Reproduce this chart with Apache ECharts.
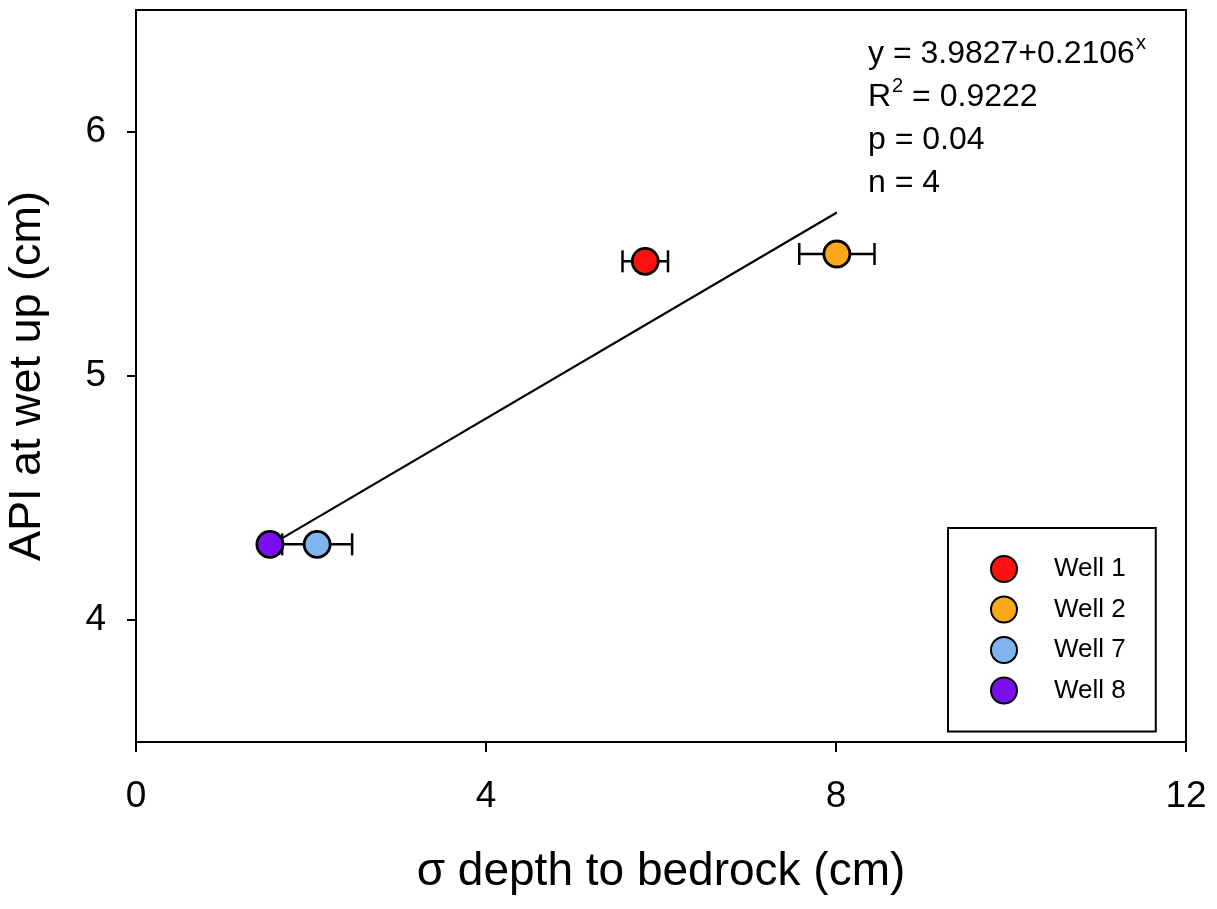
<!DOCTYPE html>
<html>
<head>
<meta charset="utf-8">
<script src="https://cdn.jsdelivr.net/npm/echarts@6/dist/echarts.min.js"></script>
<style>
  html, body { margin: 0; padding: 0; background: #fff; }
  #chart { width: 1217px; height: 909px; }
</style>
</head>
<body>
<div id="chart"></div>
<script>
// values
const wells = ['Well 1', 'Well 2', 'Well 7', 'Well 8']
const depthSd = [5.82, 8.01, 2.07, 1.53]
const depthSdErr = [0.26, 0.43, 0.40, 0]
const apiWetUp = [5.47, 5.50, 4.31, 4.31]
const wellColors = ['#ff1010', '#f8a818', '#80b4ee', '#7a10f0']

const fitX = [1.55, 8.01]
const fitY = [4.31, 5.67]

const xTicks = [0, 4, 8, 12]
const yTicks = [4, 5, 6]

const statLines = ['y = 3.9827+0.2106', 'x', 'R', '2', ' = 0.9222', 'p = 0.04', 'n = 4']

const FONT = '"Liberation Sans", Arial, sans-serif'

const chart = echarts.init(document.getElementById('chart'))

const errData = wells.map((w, i) => [depthSd[i], apiWetUp[i], depthSdErr[i]])

function renderErr(params, api) {
  const x = api.value(0), y = api.value(1), e = api.value(2)
  if (!e) return null
  const a = api.coord([x - e, y])
  const b = api.coord([x + e, y])
  const h = 11
  const st = { stroke: '#000', lineWidth: 2.5 }
  return {
    type: 'group',
    children: [
      { type: 'line', shape: { x1: a[0], y1: a[1], x2: b[0], y2: b[1] }, style: st },
      { type: 'line', shape: { x1: a[0], y1: a[1] - h, x2: a[0], y2: a[1] + h }, style: st },
      { type: 'line', shape: { x1: b[0], y1: b[1] - h, x2: b[0], y2: b[1] + h }, style: st }
    ]
  }
}

const option = {
  animation: false,
  backgroundColor: '#fff',
  textStyle: { fontFamily: FONT },
  grid: {
    left: 136, right: 31, top: 10, bottom: 167,
    outerBoundsMode: 'none', containLabel: false,
    show: true, borderColor: '#000', borderWidth: 2
  },
  xAxis: {
    type: 'value', min: 0, max: 12, interval: 4,
    name: 'σ depth to bedrock (cm)', nameLocation: 'middle', nameGap: 107,
    nameTextStyle: { fontSize: 46, color: '#000', fontFamily: FONT },
    axisLine: { lineStyle: { color: '#000', width: 2 } },
    axisTick: { length: 10, lineStyle: { color: '#000', width: 2 } },
    axisLabel: { fontSize: 37, color: '#000', margin: 36, fontFamily: FONT },
    splitLine: { show: false }
  },
  yAxis: {
    type: 'value', min: 3.5, max: 6.5,
    name: 'API at wet up (cm)', nameLocation: 'middle', nameGap: 86,
    nameTextStyle: { fontSize: 45, color: '#000', fontFamily: FONT },
    axisLine: { lineStyle: { color: '#000', width: 2 } },
    axisTick: { length: 9, customValues: yTicks, lineStyle: { color: '#000', width: 2 } },
    axisLabel: { fontSize: 37, color: '#000', margin: 30, customValues: yTicks, fontFamily: FONT },
    splitLine: { show: false }
  },
  legend: {
    data: wells,
    orient: 'vertical',
    left: 948, top: 528,
    padding: [27, 30, 27, 42],
    itemWidth: 26, itemHeight: 26, itemGap: 12.5,
    icon: 'circle',
    borderColor: '#000', borderWidth: 2, backgroundColor: '#fff',
    textStyle: { fontSize: 26, color: '#000', fontFamily: FONT, padding: [0, 0, 0, 32] }
  },
  graphic: [{
    type: 'text', left: 868, top: 33,
    style: {
      text: '{n|' + statLines[0] + '}{s|' + statLines[1] + '}\n' +
            '{n|' + statLines[2] + '}{s|' + statLines[3] + '}{n|' + statLines[4] + '}\n' +
            '{n|' + statLines[5] + '}\n{n|' + statLines[6] + '}',
      fill: '#000',
      rich: {
        n: { fontSize: 32, lineHeight: 43, fontFamily: FONT, fill: '#000' },
        s: { fontSize: 20, lineHeight: 43, verticalAlign: 'top', padding: [0, 0, 10, 1], fontFamily: FONT, fill: '#000' }
      }
    }
  }],
  series: [
    {
      type: 'line', data: fitX.map((x, i) => [x, fitY[i]]),
      symbol: 'none', lineStyle: { color: '#000', width: 2.2 }, z: 2, silent: true
    },
    {
      type: 'custom', data: errData, renderItem: renderErr, z: 3, silent: true
    },
    ...wells.map((w, i) => ({
      name: w, type: 'scatter', symbol: 'circle', symbolSize: 26,
      data: [[depthSd[i], apiWetUp[i]]],
      itemStyle: { color: wellColors[i], borderColor: '#000', borderWidth: 2.8, opacity: 1 },
      z: 5
    }))
  ]
}

chart.setOption(option)
</script>
</body>
</html>
